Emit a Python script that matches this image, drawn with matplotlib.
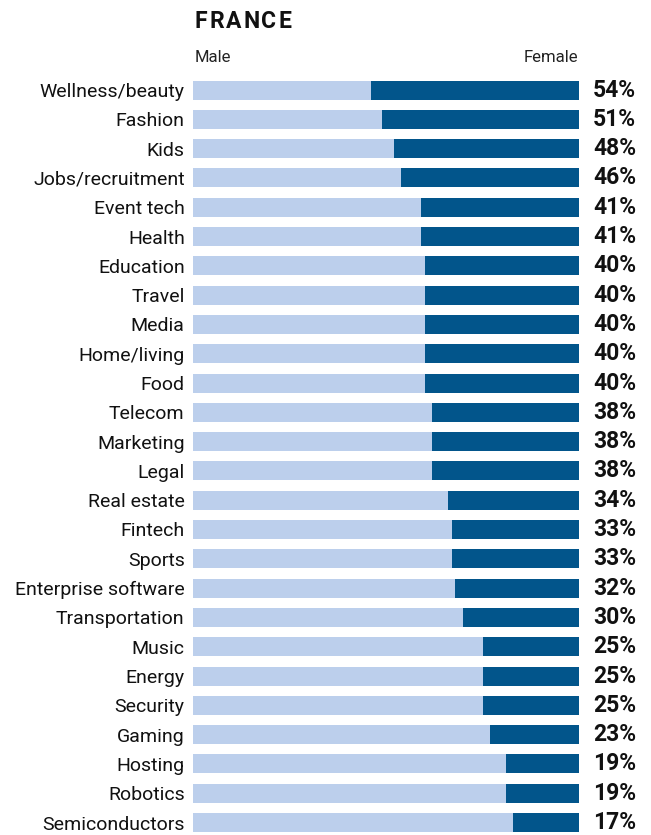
import matplotlib
matplotlib.use("Agg")
import matplotlib.pyplot as plt

categories = [
    "Wellness/beauty", "Fashion", "Kids", "Jobs/recruitment", "Event tech",
    "Health", "Education", "Travel", "Media", "Home/living", "Food",
    "Telecom", "Marketing", "Legal", "Real estate", "Fintech", "Sports",
    "Enterprise software", "Transportation", "Music", "Energy", "Security",
    "Gaming", "Hosting", "Robotics", "Semiconductors",
]
female_share = [54, 51, 48, 46, 41, 41, 40, 40, 40, 40, 40, 38, 38, 38,
                34, 33, 33, 32, 30, 25, 25, 25, 23, 19, 19, 17]
male_share = [100 - f for f in female_share]

MALE_COLOR = "#bccfec"
FEMALE_COLOR = "#02558b"
FONT = ["Roboto", "DejaVu Sans"]

W, H = 651, 835
fig = plt.figure(figsize=(W / 100, H / 100), dpi=100)

pitch = 29.3
first_center = 90
top_px = first_center - 0.5 * pitch
left_px, right_px = 193, 579
ax = fig.add_axes([left_px / W, 0, (right_px - left_px) / W, (H - top_px) / H])

y = list(range(len(categories)))
bar_h = 19 / pitch
ax.barh(y, male_share, height=bar_h, color=MALE_COLOR, linewidth=0)
ax.barh(y, female_share, left=male_share, height=bar_h, color=FEMALE_COLOR, linewidth=0)

ax.set_xlim(0, 100)
ax.set_ylim((H - first_center) / pitch, -0.5)
ax.set_yticks(y)
ax.set_yticklabels(categories, fontsize=14, family=FONT, color="#111111")
ax.tick_params(axis="y", length=0, pad=6)
ax.set_xticks([])
for s in ax.spines.values():
    s.set_visible(False)

for yi, f in zip(y, female_share):
    ax.text(103.6, yi, f"{f}%", va="center", ha="left", fontsize=16.5,
            fontweight="bold", family=FONT, color="#111111")

# Letter-spaced title, placed one glyph at a time
renderer = fig.canvas.get_renderer()
x_px = 195
tracking = 1.8
for ch in "FRANCE":
    t = fig.text(x_px / W, 1 - 21 / H, ch, ha="left", va="center", fontsize=16.5,
                 fontweight="bold", family=FONT, color="#111111")
    x_px += t.get_window_extent(renderer).width + tracking

fig.text(195 / W, 1 - 57 / H, "Male", ha="left", va="center", fontsize=12,
         family=FONT, color="#222222")
fig.text(578 / W, 1 - 57 / H, "Female", ha="right", va="center", fontsize=12,
         family=FONT, color="#222222")

fig.savefig("out.png", dpi=100, facecolor="white")
